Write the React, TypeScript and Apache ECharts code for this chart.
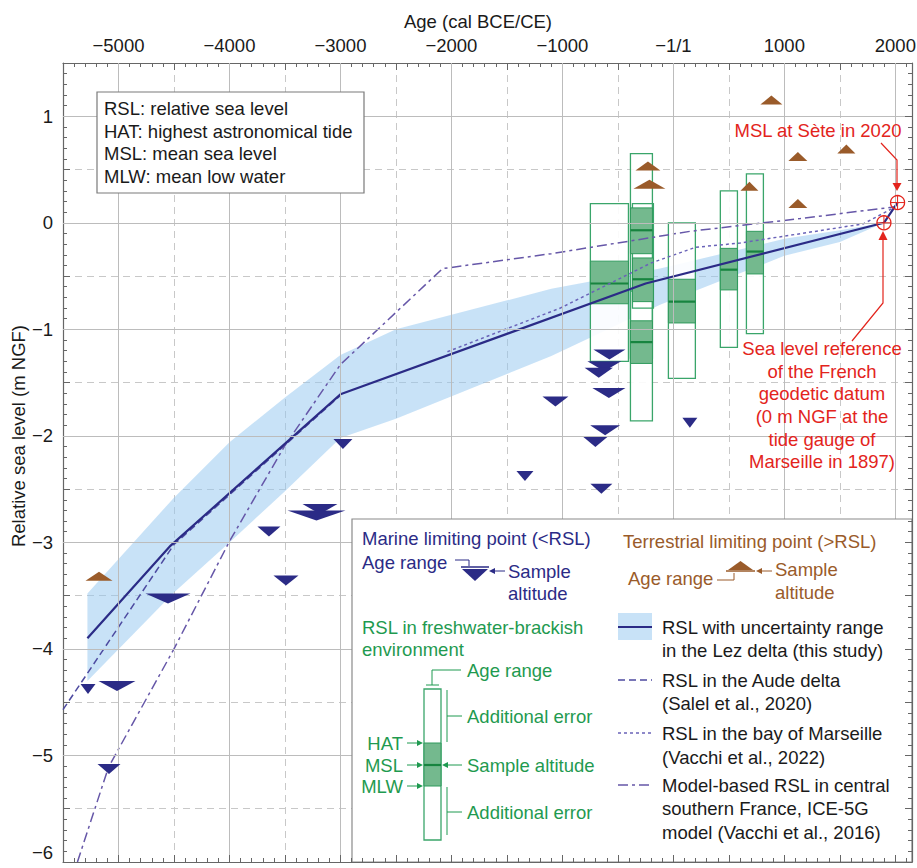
import React, { useEffect, useRef } from 'react';
import * as echarts from 'echarts';

const FONT = '"Liberation Sans", Arial, Helvetica, sans-serif';
const FS = 18.5;

const NAVY = '#2b2b86';
const BROWN = '#9a5b2a';
const GREEN_TXT = '#1f9a50';
const GREEN_OUT = '#3aa56a';
const GREEN_FILL = '#74b98e';
const GREEN_IN = '#2f9a5c';
const GREEN_MSL = '#17843f';
const RED = '#e3241c';
const BAND = 'rgba(150,200,240,0.52)';
const AUDE = '#4d4aa0';
const MARS = '#6a63b8';
const MODEL = '#6657a8';

// Axis ticks
const xTickValues = [-5000, -4000, -3000, -2000, -1000, 0, 1000, 2000];
const xTickLabels = ['−5000', '−4000', '−3000', '−2000', '−1000', '−1/1', '1000', '2000'];
const yTickValues = [1, 0, -1, -2, -3, -4, -5, -6];
const yTickLabels = ['1', '0', '−1', '−2', '−3', '−4', '−5', '−6'];

// RSL (this study)
const rslYears = [-5280, -4530, -3000, -250, 1897, 2020];
const rslValues = [-3.9, -3.03, -1.61, -0.57, 0, 0.19];

// uncertainty band
const bandYears = [-5280, -4500, -4000, -3500, -3000, -2500, -1100, -120, 1000, 1500, 1897];
const bandUpper = [-3.48, -2.58, -2.06, -1.64, -1.24, -1.0, -0.62, -0.43, -0.15, -0.07, 0];
const bandLower = [-4.3, -3.47, -3.0, -2.52, -2.02, -1.84, -1.25, -0.77, -0.31, -0.18, 0];

// Aude delta (Salel et al., 2020)
const audeYears = [-5500, -4500, -3000];
const audeValues = [-4.57, -3.02, -1.62];

// Bay of Marseille (Vacchi et al., 2022)
const marsYears = [-2036, -1018, -207, 200, 600, 1712, 2000];
const marsValues = [-1.21, -0.8, -0.38, -0.23, -0.19, -0.01, 0.15];

// Model ICE-5G (Vacchi et al., 2016)
const modelYears = [-5370, -5090, -4500, -4000, -3500, -3000, -2080, -1100, 150, 1144, 2000];
const modelValues = [-6.0, -5.11, -4.0, -2.99, -2.09, -1.33, -0.43, -0.29, -0.08, 0.04, 0.15];

// Marine limiting points (age range start/end, sample altitude)
const marineStart = [-5342, -5180, -5189, -4757, -3748, -3604, -3342, -3477, -3063, -1180, -1414, -721, -775, -800, -730, -750, -811, 81, -748];
const marineEnd = [-5207, -4847, -4982, -4351, -3541, -3378, -3027, -2955, -2892, -946, -1261, -432, -470, -545, -432, -480, -595, 216, -550];
const marineAlt = [-4.33, -4.3, -5.08, -3.48, -2.85, -3.31, -2.64, -2.7, -2.03, -1.63, -2.33, -1.19, -1.3, -1.36, -1.55, -1.9, -2.01, -1.83, -2.45];

// Terrestrial limiting points
const terrStart = [-5297, -342, -360, 784, 1036, 1477, 604, 1036];
const terrEnd = [-5054, -117, -72, 982, 1207, 1640, 766, 1207];
const terrAlt = [-3.36, 0.49, 0.32, 1.11, 0.58, 0.65, 0.3, 0.14];

// Freshwater-brackish RSL boxes
const boxStart = [-748, -387, -369, -387, -45, 423, 658];
const boxEnd = [-405, -189, -180, -189, 198, 577, 811];
const boxTop = [0.18, 0.65, 0.18, -0.64, 0.0, 0.3, 0.46];
const boxBottom = [-1.3, -1.27, -0.8, -1.86, -1.46, -1.17, -1.04];
const boxHat = [-0.36, 0.14, -0.33, -0.92, -0.53, -0.24, -0.08];
const boxMsl = [-0.57, -0.07, -0.53, -1.12, -0.74, -0.44, -0.27];
const boxMlw = [-0.76, -0.29, -0.74, -1.32, -0.94, -0.63, -0.48];

// Reference points (1897 datum, MSL Sète 2020)
const refYears = [1897, 2020];
const refValues = [0, 0.19];

const TRI_H = 10;

const zip = (a: number[], b: number[]) => a.map((v, i) => [v, b[i]]);

const txt = (text: string, x: number, y: number, fill: string, align = 'left', extra: any = {}) => ({
  type: 'text', x, y, z: 20, silent: true, ...extra,
  style: { text, fill, fontSize: FS, fontFamily: FONT, textAlign: align, verticalAlign: 'middle', textVerticalAlign: 'middle' },
});
const ln = (x1: number, y1: number, x2: number, y2: number, stroke: string, lineWidth = 1, lineDash?: number[]) => ({
  type: 'line', z: 20, silent: true, shape: { x1, y1, x2, y2 }, style: { stroke, lineWidth, lineDash },
});
const pl = (points: number[][], stroke: string, lineWidth = 1) => ({
  type: 'polyline', z: 20, silent: true, shape: { points }, style: { stroke, lineWidth, fill: 'none' },
});
const pg = (points: number[][], fill: string) => ({
  type: 'polygon', z: 20, silent: true, shape: { points }, style: { fill },
});
const rc = (x: number, y: number, width: number, height: number, style: any) => ({
  type: 'rect', z: 20, silent: true, shape: { x, y, width, height }, style,
});

const axisCommon = {
  type: 'value',
  axisLine: { show: true, onZero: false, lineStyle: { color: '#666', width: 1.2 } },
  axisTick: { show: true, inside: true, length: 7, lineStyle: { color: '#666' } },
  minorTick: { show: true, splitNumber: 5, length: 4, lineStyle: { color: '#666' } },
};

function buildOption(): any {
  const marineData = marineStart.map((s, i) => [s, marineEnd[i], marineAlt[i]]);
  const terrData = terrStart.map((s, i) => [s, terrEnd[i], terrAlt[i]]);
  const boxData = boxStart.map((s, i) => [s, boxEnd[i], boxTop[i], boxBottom[i], boxHat[i], boxMsl[i], boxMlw[i]]);

  const rectOf = (api: any, x1: number, x2: number, y1: number, y2: number) => {
    const a = api.coord([x1, y1]);
    const b = api.coord([x2, y2]);
    return { x: a[0], y: a[1], width: b[0] - a[0], height: b[1] - a[1] };
  };

  const graphic: any[] = [
    // axis names
    txt('Age (cal BCE/CE)', 478, 21, '#1a1a1a', 'center'),
    txt('Relative sea level (m NGF)', 18, 436, '#1a1a1a', 'center', { rotation: Math.PI / 2 }),
    // top-left glossary
    rc(97, 92, 267, 101, { fill: '#fff', stroke: '#7a7a7a', lineWidth: 1.2 }),
    txt('RSL: relative sea level', 104, 108, '#1a1a1a'),
    txt('HAT: highest astronomical tide', 104, 131, '#1a1a1a'),
    txt('MSL: mean sea level', 104, 153, '#1a1a1a'),
    txt('MLW: mean low water', 104, 176, '#1a1a1a'),
    // red annotations
    txt('MSL at Sète in 2020', 818, 130, RED, 'center'),
    pl([[881, 143], [897, 160], [897, 184]], RED, 1.2),
    pg([[897, 191], [892.5, 183], [901.5, 183]], RED),
    pg([[883, 231], [878.5, 240], [887.5, 240]], RED),
    pl([[883, 240], [883, 303], [852, 341]], RED, 1.2),
    txt('Sea level reference', 822, 348, RED, 'center'),
    txt('of the French', 822, 371, RED, 'center'),
    txt('geodetic datum', 822, 393, RED, 'center'),
    txt('(0 m NGF at the', 822, 416, RED, 'center'),
    txt('tide gauge of', 822, 439, RED, 'center'),
    txt('Marseille in 1897)', 822, 461, RED, 'center'),
    // bottom-right legend box
    rc(352, 519, 560, 343, { fill: '#fff', stroke: '#8a8a8a', lineWidth: 1.2 }),
    // marine
    txt('Marine limiting point (<RSL)', 362, 538, NAVY),
    txt('Age range', 362, 562, NAVY),
    txt('Sample', 508, 571, NAVY),
    txt('altitude', 508, 593, NAVY),
    pl([[455, 560], [469, 560], [469, 566]], NAVY, 1),
    ln(461, 567, 489, 567, NAVY, 1.5),
    pg([[462, 569], [488, 569], [475, 581]], NAVY),
    ln(505, 571, 494, 571, NAVY, 1),
    pg([[489, 571], [495, 568], [495, 574]], NAVY),
    // terrestrial
    txt('Terrestrial limiting point (>RSL)', 623, 541, BROWN),
    txt('Age range', 628, 578, BROWN),
    txt('Sample', 775, 569, BROWN),
    txt('altitude', 775, 592, BROWN),
    pl([[717, 580], [734, 580], [734, 573]], BROWN, 1),
    ln(726, 571, 755, 571, BROWN, 1.5),
    pg([[728, 570], [753, 570], [740.5, 561]], BROWN),
    ln(772, 571, 761, 571, BROWN, 1),
    pg([[756, 571], [762, 568], [762, 574]], BROWN),
    // freshwater-brackish
    txt('RSL in freshwater-brackish', 362, 627, GREEN_TXT),
    txt('environment', 362, 649, GREEN_TXT),
    txt('Age range', 467, 670, GREEN_TXT),
    txt('Additional error', 467, 716, GREEN_TXT),
    txt('Sample altitude', 467, 765, GREEN_TXT),
    txt('Additional error', 467, 812, GREEN_TXT),
    txt('HAT', 403, 743, GREEN_TXT, 'right'),
    txt('MSL', 403, 765, GREEN_TXT, 'right'),
    txt('MLW', 403, 786, GREEN_TXT, 'right'),
    pl([[461, 670], [432, 670], [432, 685]], GREEN_TXT, 1),
    ln(426, 685, 439, 685, GREEN_TXT, 1),
    rc(424, 689, 17, 151, { fill: '#fff', stroke: GREEN_OUT, lineWidth: 1.3 }),
    rc(424, 743, 17, 43, { fill: GREEN_FILL, stroke: GREEN_IN, lineWidth: 1 }),
    ln(424, 765, 441, 765, GREEN_MSL, 2.2),
    ln(447, 690, 447, 742, GREEN_TXT, 1),
    ln(447, 716, 462, 716, GREEN_TXT, 1),
    ln(447, 787, 447, 835, GREEN_TXT, 1),
    ln(447, 812, 462, 812, GREEN_TXT, 1),
    ln(462, 765, 447, 765, GREEN_TXT, 1),
    pg([[442, 765], [448, 762], [448, 768]], GREEN_TXT),
    ln(407, 743, 418, 743, GREEN_TXT, 1),
    pg([[423, 743], [417, 740], [417, 746]], GREEN_TXT),
    ln(407, 765, 418, 765, GREEN_TXT, 1),
    pg([[423, 765], [417, 762], [417, 768]], GREEN_TXT),
    ln(407, 786, 418, 786, GREEN_TXT, 1),
    pg([[423, 786], [417, 783], [417, 789]], GREEN_TXT),
    // right column
    rc(618, 613, 34, 27, { fill: BAND }),
    ln(618, 627, 652, 627, NAVY, 2),
    txt('RSL with uncertainty range', 662, 627, '#1a1a1a'),
    txt('in the Lez delta (this study)', 662, 650, '#1a1a1a'),
    ln(618, 680, 652, 680, AUDE, 1.5, [7, 4]),
    txt('RSL in the Aude delta', 662, 680, '#1a1a1a'),
    txt('(Salel et al., 2020)', 662, 703, '#1a1a1a'),
    ln(618, 733, 652, 733, MARS, 1.5, [3, 3]),
    txt('RSL in the bay of Marseille', 662, 733, '#1a1a1a'),
    txt('(Vacchi et al., 2022)', 662, 757, '#1a1a1a'),
    ln(618, 785, 652, 785, MODEL, 1.5, [10, 4, 3, 4]),
    txt('Model-based RSL in central', 662, 785, '#1a1a1a'),
    txt('southern France, ICE-5G', 662, 808, '#1a1a1a'),
    txt('model (Vacchi et al., 2016)', 662, 832, '#1a1a1a'),
  ];

  const fx = (v: number) => {
    const i = xTickValues.indexOf(v);
    return i >= 0 ? xTickLabels[i] : '';
  };
  const fy = (v: number) => {
    const i = yTickValues.indexOf(v);
    return i >= 0 ? yTickLabels[i] : '';
  };

  return {
    animation: false,
    backgroundColor: '#fff',
    grid: { left: 63, top: 63, right: 5, bottom: 6, containLabel: false, outerBoundsMode: 'none' },
    xAxis: [
      {
        ...axisCommon, min: -5500, max: 2150, interval: 500, position: 'top',
        axisLabel: { show: true, margin: 8, formatter: fx, color: '#1a1a1a', fontSize: FS, fontFamily: FONT },
        splitLine: { show: true, lineStyle: { color: '#c8c8c8', type: [7, 5], width: 1 } },
      },
      {
        ...axisCommon, min: -5500, max: 2150, interval: 500, position: 'bottom', z: 30,
        axisLabel: { show: false }, splitLine: { show: false },
      },
    ],
    yAxis: [
      {
        ...axisCommon, min: -6, max: 1.5, interval: 0.5, position: 'left',
        axisLabel: {
          show: true, margin: 10, formatter: fy, color: '#1a1a1a', fontSize: FS, fontFamily: FONT,
          verticalAlignMinLabel: 'bottom',
        },
        splitLine: { show: true, lineStyle: { color: '#c8c8c8', type: [7, 5], width: 1 } },
      },
      {
        ...axisCommon, min: -6, max: 1.5, interval: 0.5, position: 'right', z: 30,
        axisLabel: { show: false }, splitLine: { show: false },
      },
    ],
    graphic,
    series: [
      {
        type: 'line', z: 0, silent: true, data: [[-5500, -6]], symbol: 'none', lineStyle: { opacity: 0 },
        markLine: {
          silent: true, symbol: ['none', 'none'], label: { show: false },
          lineStyle: { type: 'solid', color: '#bcbcbc', width: 1 },
          emphasis: { disabled: true },
          data: [...xTickValues.map((v) => ({ xAxis: v })), ...yTickValues.map((v) => ({ yAxis: v }))],
        },
      },
      {
        type: 'custom', z: 1, silent: true, data: [[bandYears[0], bandUpper[0]]],
        renderItem: (_p: any, api: any) => {
          const pts: number[][] = [];
          bandYears.forEach((x, i) => pts.push(api.coord([x, bandUpper[i]])));
          for (let i = bandYears.length - 1; i >= 0; i--) pts.push(api.coord([bandYears[i], bandLower[i]]));
          return { type: 'polygon', shape: { points: pts }, style: { fill: BAND } };
        },
      },
      {
        type: 'custom', z: 2, silent: true, data: boxData, encode: { x: [0, 1], y: [2, 3] },
        renderItem: (_p: any, api: any) => ({
          type: 'rect', shape: rectOf(api, api.value(0), api.value(1), api.value(2), api.value(3)),
          style: { fill: 'rgba(255,255,255,0.9)' },
        }),
      },
      {
        type: 'custom', z: 2, silent: true, data: boxData, encode: { x: [0, 1], y: [2, 3] },
        renderItem: (_p: any, api: any) => ({
          type: 'rect', shape: rectOf(api, api.value(0), api.value(1), api.value(2), api.value(3)),
          style: { fill: 'none', stroke: GREEN_OUT, lineWidth: 1.3 },
        }),
      },
      {
        type: 'custom', z: 2, silent: true, data: boxData, encode: { x: [0, 1], y: [4, 6] },
        renderItem: (_p: any, api: any) => {
          const r = rectOf(api, api.value(0), api.value(1), api.value(4), api.value(6));
          const m = api.coord([api.value(0), api.value(5)]);
          return {
            type: 'group',
            children: [
              { type: 'rect', shape: r, style: { fill: GREEN_FILL, stroke: GREEN_IN, lineWidth: 1 } },
              { type: 'line', shape: { x1: r.x, y1: m[1], x2: r.x + r.width, y2: m[1] }, style: { stroke: GREEN_MSL, lineWidth: 2.2 } },
            ],
          };
        },
      },
      {
        type: 'line', z: 3, silent: true, data: zip(audeYears, audeValues), symbol: 'none',
        lineStyle: { color: AUDE, width: 1.5, type: [7, 4] },
      },
      {
        type: 'line', z: 3, silent: true, data: zip(marsYears, marsValues), symbol: 'none',
        lineStyle: { color: MARS, width: 1.5, type: [3, 3] },
      },
      {
        type: 'line', z: 3, silent: true, data: zip(modelYears, modelValues), symbol: 'none',
        lineStyle: { color: MODEL, width: 1.5, type: [10, 4, 3, 4] },
      },
      {
        type: 'line', z: 4, silent: true, data: zip(rslYears, rslValues), symbol: 'none',
        lineStyle: { color: NAVY, width: 2.2 },
      },
      {
        type: 'custom', z: 5, silent: true, data: marineData, encode: { x: [0, 1], y: 2 },
        renderItem: (_p: any, api: any) => {
          const a = api.coord([api.value(0), api.value(2)]);
          const b = api.coord([api.value(1), api.value(2)]);
          return { type: 'polygon', shape: { points: [a, b, [(a[0] + b[0]) / 2, a[1] + TRI_H]] }, style: { fill: NAVY } };
        },
      },
      {
        type: 'custom', z: 5, silent: true, data: terrData, encode: { x: [0, 1], y: 2 },
        renderItem: (_p: any, api: any) => {
          const a = api.coord([api.value(0), api.value(2)]);
          const b = api.coord([api.value(1), api.value(2)]);
          return { type: 'polygon', shape: { points: [a, b, [(a[0] + b[0]) / 2, a[1] - TRI_H + 1]] }, style: { fill: BROWN } };
        },
      },
      {
        type: 'custom', z: 6, silent: true, data: zip(refYears, refValues), encode: { x: 0, y: 1 },
        renderItem: (_p: any, api: any) => {
          const c = api.coord([api.value(0), api.value(1)]);
          const r = 7;
          return {
            type: 'group',
            children: [
              { type: 'circle', shape: { cx: c[0], cy: c[1], r }, style: { fill: 'none', stroke: RED, lineWidth: 1.3 } },
              { type: 'line', shape: { x1: c[0] - r, y1: c[1], x2: c[0] + r, y2: c[1] }, style: { stroke: RED, lineWidth: 1 } },
              { type: 'line', shape: { x1: c[0], y1: c[1] - r, x2: c[0], y2: c[1] + r }, style: { stroke: RED, lineWidth: 1 } },
            ],
          };
        },
      },
    ],
  };
}

export default function App() {
  const ref = useRef<HTMLDivElement>(null);
  useEffect(() => {
    if (!ref.current) return;
    const chart = echarts.init(ref.current, null, { renderer: 'svg' });
    chart.setOption(buildOption());
    return () => chart.dispose();
  }, []);
  return (
    <div
      ref={ref}
      style={{ position: 'fixed', left: 0, top: 0, width: 917, height: 868, background: '#fff' }}
    />
  );
}
